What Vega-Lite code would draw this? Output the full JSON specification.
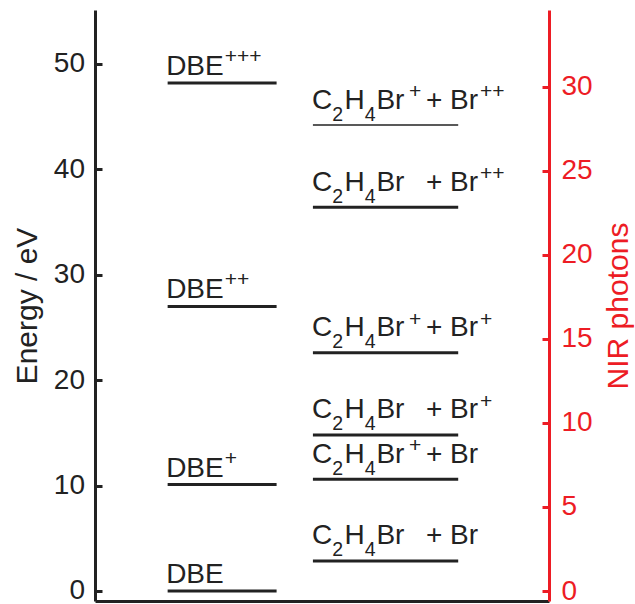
{
  "$schema": "https://vega.github.io/schema/vega-lite/v6.json",
  "width": 454,
  "height": 591,
  "autosize": "none",
  "padding": {"left": 95, "top": 10, "right": 86, "bottom": 3},
  "config": {"view": {"stroke": null}, "font": "Liberation Sans", "axis": {"grid": false}, "text": {"color": "#222222", "align": "left", "baseline": "alphabetic"}},
  "datasets": {
    "levels": [
      {"state": "DBE", "column": "parent", "start": 16, "end": 40, "energy": 0, "el1": "DBE", "q1": ""},
      {"state": "DBE+", "column": "parent", "start": 16, "end": 40, "energy": 10.1, "el1": "DBE", "q1": "+"},
      {"state": "DBE++", "column": "parent", "start": 16, "end": 40, "energy": 27.0, "el1": "DBE", "q1": "++"},
      {"state": "DBE+++", "column": "parent", "start": 16, "end": 40, "energy": 48.2, "el1": "DBE", "q1": "+++"},
      {"state": "C2H4Br + Br", "column": "fragments", "start": 48, "end": 80, "energy": 2.85, "el1": "C", "n1": "2", "el2": "H", "n2": "4", "el3": "Br", "q1": "", "partner": "+ Br", "q2": ""},
      {"state": "C2H4Br+ + Br", "column": "fragments", "start": 48, "end": 80, "energy": 10.6, "el1": "C", "n1": "2", "el2": "H", "n2": "4", "el3": "Br", "q1": "+", "partner": "+ Br", "q2": ""},
      {"state": "C2H4Br + Br+", "column": "fragments", "start": 48, "end": 80, "energy": 14.8, "el1": "C", "n1": "2", "el2": "H", "n2": "4", "el3": "Br", "q1": "", "partner": "+ Br", "q2": "+"},
      {"state": "C2H4Br+ + Br+", "column": "fragments", "start": 48, "end": 80, "energy": 22.6, "el1": "C", "n1": "2", "el2": "H", "n2": "4", "el3": "Br", "q1": "+", "partner": "+ Br", "q2": "+"},
      {"state": "C2H4Br + Br++", "column": "fragments", "start": 48, "end": 80, "energy": 36.4, "el1": "C", "n1": "2", "el2": "H", "n2": "4", "el3": "Br", "q1": "", "partner": "+ Br", "q2": "++"},
      {"state": "C2H4Br+ + Br++", "column": "fragments", "start": 48, "end": 80, "energy": 44.2, "el1": "C", "n1": "2", "el2": "H", "n2": "4", "el3": "Br", "q1": "+", "partner": "+ Br", "q2": "++"}
    ],
    "photons": [{"n": 0}, {"n": 30}]
  },
  "layer": [
    {
      "data": {"name": "levels"},
      "encoding": {
        "x": {"field": "start", "type": "quantitative",
          "scale": {"domain": [0, 100], "nice": false, "zero": false},
          "axis": {"orient": "bottom", "title": null, "ticks": false, "labels": false, "domain": true, "domainWidth": 3, "domainColor": "#222222"}},
        "y": {"field": "energy", "type": "quantitative",
          "scale": {"domain": [-0.949, 55.12], "nice": false, "zero": false},
          "axis": {"orient": "left", "values": [0, 10, 20, 30, 40, 50], "title": "Energy / eV",
            "titleFontSize": 30, "titleFontWeight": "normal", "titleColor": "#222222", "titlePadding": 11,
            "labelFontSize": 28, "labelColor": "#222222", "labelPadding": 17.5,
            "tickSize": -7, "tickWidth": 3, "tickColor": "#222222",
            "domainWidth": 3, "domainColor": "#222222"}}
      },
      "layer": [
        {"transform": [{"filter": "datum.state !== 'C2H4Br+ + Br++'"}],
         "mark": {"type": "rule", "strokeWidth": 3, "color": "#222222"},
         "encoding": {"x2": {"field": "end"}}},
        {"transform": [{"filter": "datum.state === 'C2H4Br+ + Br++'"}],
         "mark": {"type": "rule", "strokeWidth": 1.5, "color": "#222222"},
         "encoding": {"x2": {"field": "end"}}},
        {"transform": [{"filter": "datum.column === 'parent'"}],
         "mark": {"type": "text", "dx": -1.5, "dy": -8, "fontSize": 28},
         "encoding": {"text": {"field": "el1"}}},
        {"transform": [{"filter": "datum.column === 'parent'"}],
         "mark": {"type": "text", "dx": 57, "dy": -20, "fontSize": 21},
         "encoding": {"text": {"field": "q1"}}},
        {"transform": [{"filter": "datum.column === 'fragments'"}],
         "mark": {"type": "text", "dx": -1, "dy": -16.5, "fontSize": 28},
         "encoding": {"text": {"field": "el1"}}},
        {"transform": [{"filter": "datum.column === 'fragments'"}],
         "mark": {"type": "text", "dx": 19.3, "dy": -4.5, "fontSize": 19.5},
         "encoding": {"text": {"field": "n1"}}},
        {"transform": [{"filter": "datum.column === 'fragments'"}],
         "mark": {"type": "text", "dx": 31.5, "dy": -16.5, "fontSize": 28},
         "encoding": {"text": {"field": "el2"}}},
        {"transform": [{"filter": "datum.column === 'fragments'"}],
         "mark": {"type": "text", "dx": 51.8, "dy": -4.5, "fontSize": 19.5},
         "encoding": {"text": {"field": "n2"}}},
        {"transform": [{"filter": "datum.column === 'fragments'"}],
         "mark": {"type": "text", "dx": 63.5, "dy": -16.5, "fontSize": 28},
         "encoding": {"text": {"field": "el3"}}},
        {"transform": [{"filter": "datum.column === 'fragments'"}],
         "mark": {"type": "text", "dx": 96, "dy": -27, "fontSize": 21},
         "encoding": {"text": {"field": "q1"}}},
        {"transform": [{"filter": "datum.column === 'fragments'"}],
         "mark": {"type": "text", "dx": 113, "dy": -16.5, "fontSize": 28},
         "encoding": {"text": {"field": "partner"}}},
        {"transform": [{"filter": "datum.column === 'fragments'"}],
         "mark": {"type": "text", "dx": 167, "dy": -27, "fontSize": 21},
         "encoding": {"text": {"field": "q2"}}}
      ]
    },
    {
      "data": {"name": "photons"},
      "mark": {"type": "point", "opacity": 0},
      "encoding": {
        "y": {"field": "n", "type": "quantitative",
          "scale": {"domain": [-0.595, 34.58], "nice": false, "zero": false},
          "axis": {"orient": "right", "values": [0, 5, 10, 15, 20, 25, 30], "title": "NIR photons",
            "titleFontSize": 30, "titleFontWeight": "normal", "titleColor": "#ed1c24", "titlePadding": 11, "titleAngle": 270, "titleBaseline": "top",
            "labelFontSize": 28, "labelColor": "#ed1c24", "labelPadding": 19,
            "tickSize": -7, "tickWidth": 3, "tickColor": "#ed1c24",
            "domainWidth": 3, "domainColor": "#ed1c24"}}
      }
    }
  ],
  "resolve": {"scale": {"y": "independent"}}
}
